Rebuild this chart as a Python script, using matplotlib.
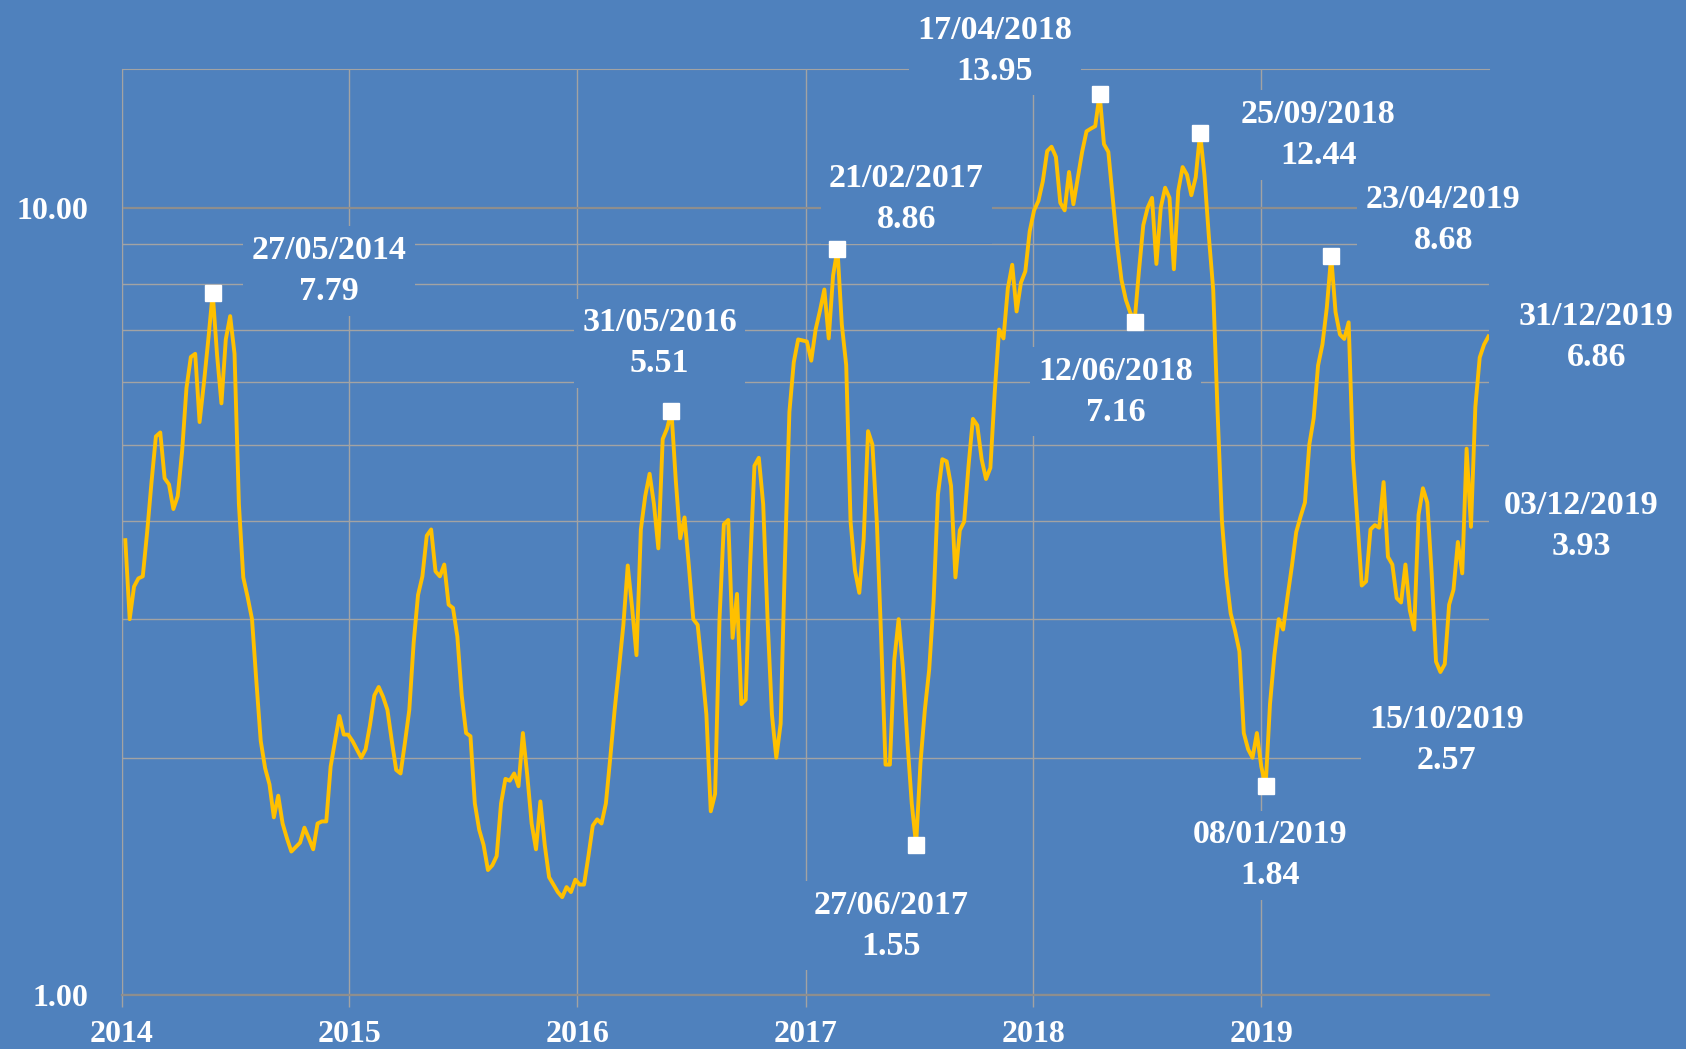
"""
Weekly series 2014-2019 on a log scale, with the highs, lows and the last
points labelled with their date and value.
"""

import matplotlib

matplotlib.use("Agg")
import matplotlib.dates as mdates
import matplotlib.pyplot as plt
import pandas as pd
from matplotlib.ticker import FixedLocator, NullFormatter

# Weekly values (Tuesdays), one list per calendar year
values_2014 = [
    3.78, 3.0, 3.3, 3.38, 3.40, 3.87, 4.48, 5.12, 5.18, 4.53,
    4.45, 4.14, 4.3, 4.9, 5.9, 6.46, 6.52, 5.34, 5.99, 6.8,
    7.79, 6.5, 5.64, 6.8, 7.28, 6.52, 4.2, 3.39, 3.2, 3.0,
    2.5, 2.1, 1.94, 1.85, 1.68, 1.79, 1.65, 1.58, 1.52, 1.54,
    1.56, 1.63, 1.58, 1.53, 1.65, 1.66, 1.66, 1.95, 2.1, 2.26,
    2.14, 2.14,
]
values_2015 = [
    2.1, 2.05, 2.0, 2.05, 2.2, 2.4, 2.46, 2.39, 2.30, 2.1,
    1.93, 1.91, 2.09, 2.3, 2.8, 3.22, 3.4, 3.83, 3.90, 3.45,
    3.4, 3.52, 3.13, 3.10, 2.85, 2.4, 2.15, 2.13, 1.75, 1.62,
    1.55, 1.44, 1.46, 1.50, 1.75, 1.88, 1.87, 1.91, 1.84, 2.15,
    1.9, 1.65, 1.53, 1.76, 1.55, 1.41, 1.38, 1.35, 1.33, 1.37,
    1.35, 1.40,
]
values_2016 = [
    1.38, 1.38, 1.5, 1.64, 1.67, 1.65, 1.75, 2.0, 2.3, 2.6,
    2.95, 3.51, 3.1, 2.70, 3.9, 4.3, 4.59, 4.2, 3.69, 5.08,
    5.24, 5.51, 4.5, 3.80, 4.04, 3.5, 3.0, 2.95, 2.6, 2.27,
    1.71, 1.80, 3.0, 3.96, 4.01, 2.84, 3.23, 2.34, 2.37, 3.5,
    4.70, 4.81, 4.2, 3.0, 2.27, 2.0, 2.21, 3.6, 5.5, 6.36,
    6.80, 6.78,
]
values_2017 = [
    6.76, 6.39, 7.0, 7.4, 7.87, 6.82, 8.2, 8.86, 7.10, 6.31,
    3.99, 3.46, 3.24, 3.79, 5.2, 5.0, 4.0, 2.84, 1.96, 1.96,
    2.66, 3.0, 2.59, 2.1, 1.75, 1.55, 1.97, 2.3, 2.59, 3.16,
    4.32, 4.79, 4.76, 4.43, 3.39, 3.89, 3.99, 4.7, 5.39, 5.29,
    4.79, 4.52, 4.67, 5.83, 7.0, 6.82, 7.9, 8.46, 7.38, 8.03,
    8.30, 9.33,
]
values_2018 = [
    9.92, 10.2, 10.8, 11.8, 11.95, 11.6, 10.14, 9.92, 11.1, 10.1,
    10.9, 11.77, 12.5, 12.6, 12.69, 13.95, 12.04, 11.77, 10.29, 9.0,
    8.1, 7.64, 7.36, 7.16, 8.3, 9.5, 10.0, 10.29, 8.48, 10.0,
    10.6, 10.29, 8.35, 10.5, 11.26, 11.01, 10.37, 10.93, 12.44, 11.0,
    9.2, 7.87, 5.5, 4.0, 3.4, 3.05, 2.9, 2.73, 2.15, 2.05,
    2.0, 2.15,
]
values_2019 = [
    1.95, 1.84, 2.34, 2.7, 3.0, 2.91, 3.2, 3.5, 3.87, 4.05,
    4.22, 5.0, 5.4, 6.3, 6.7, 7.46, 8.68, 7.37, 6.9, 6.81,
    7.15, 4.8, 4.0, 3.31, 3.35, 3.9, 3.95, 3.92, 4.48, 3.60,
    3.52, 3.19, 3.15, 3.52, 3.08, 2.91, 4.07, 4.40, 4.22, 3.43,
    2.65, 2.57, 2.63, 3.13, 3.27, 3.76, 3.43, 4.94, 3.93, 5.58,
    6.45, 6.7, 6.86,
]

# Labelled points and whether they carry a square marker
label_dates = [
    "2014-05-27", "2016-05-31", "2017-02-21", "2017-06-27",
    "2018-04-17", "2018-06-12", "2018-09-25", "2019-01-08",
    "2019-04-23", "2019-10-15", "2019-12-03", "2019-12-31",
]
label_marked = [True, True, True, True, True, True, True, True, True,
                False, False, False]

# Label offsets from their point, in pixels (layout only)
label_offsets = [
    (116, 22), (-12, 68), (69, 50), (-25, -81),
    (-105, 43), (-19, -70), (118, -2), (4, -69),
    (112, 36), (6, -68), (110, 1), (108, -1),
]

tick_years = [2014, 2015, 2016, 2017, 2018, 2019]

BG = "#4F81BD"
LINE = "#FFC000"
GRID = "#A3A3A3"
FONT = ["Liberation Serif", "DejaVu Serif"]

values = (values_2014 + values_2015 + values_2016 + values_2017
          + values_2018 + values_2019)
dates = pd.date_range("2014-01-07", periods=len(values), freq="7D")
series = pd.Series(values, index=dates)

plt.rcParams["font.family"] = FONT

fig = plt.figure(figsize=(16.86, 10.49), dpi=100, facecolor=BG)
ax = fig.add_axes([0.0721, 0.0518, 0.8111, 0.8824])
ax.set_facecolor(BG)

ax.plot(series.index, series.values, color=LINE, linewidth=2.8, zorder=4)

marked = [pd.Timestamp(d) for d, m in zip(label_dates, label_marked) if m]
ax.plot(marked, series.loc[marked].values, linestyle="none", marker="s",
        markersize=12, color="white", zorder=5)

for d, off in zip(label_dates, label_offsets):
    t = pd.Timestamp(d)
    v = series.loc[t]
    ax.annotate(f"{t:%d/%m/%Y}\n{v:.2f}", xy=(t, v), xytext=off,
                textcoords="offset pixels", ha="center", va="center",
                color="white", fontsize=24.5, fontweight="bold",
                linespacing=1.42, zorder=3, annotation_clip=False,
                bbox=dict(boxstyle="square,pad=0.25", fc=BG, ec="none"))

# Log y axis from 1 to 15
ax.set_yscale("log")
ax.set_ylim(1, 15)
ax.yaxis.set_major_locator(FixedLocator([1, 10]))
ax.yaxis.set_minor_locator(FixedLocator([2, 3, 4, 5, 6, 7, 8, 9]))
ax.yaxis.set_major_formatter(lambda v, pos: f"{v:.2f}")
ax.yaxis.set_minor_formatter(NullFormatter())

ax.set_xlim(pd.Timestamp("2014-01-01"), pd.Timestamp("2020-01-01"))
ax.xaxis.set_major_locator(
    FixedLocator([mdates.date2num(pd.Timestamp(f"{y}-01-01")) for y in tick_years]))
ax.xaxis.set_major_formatter(mdates.DateFormatter("%Y"))

ax.grid(True, which="major", axis="y", color="#8E8E8E", linewidth=1.6, zorder=0)
ax.grid(True, which="minor", axis="y", color=GRID, linewidth=1.0, zorder=0)
ax.grid(True, which="major", axis="x", color=GRID, linewidth=1.0, zorder=0)
ax.set_axisbelow(True)

ax.tick_params(axis="y", which="both", length=0, pad=24,
               labelsize=23, labelcolor="white")
ax.tick_params(axis="x", which="major", direction="out", length=8.5,
               width=1.0, color=GRID, pad=10, labelsize=23, labelcolor="white")
for lab in ax.get_xticklabels() + ax.get_yticklabels():
    lab.set_fontweight("bold")

ax.spines["right"].set_visible(False)
ax.spines["left"].set_color(GRID)
ax.spines["top"].set_color(GRID)
ax.spines["bottom"].set_color("#8E8E8E")
ax.spines["bottom"].set_linewidth(1.6)

fig.savefig("out.png", dpi=100, facecolor=BG)
